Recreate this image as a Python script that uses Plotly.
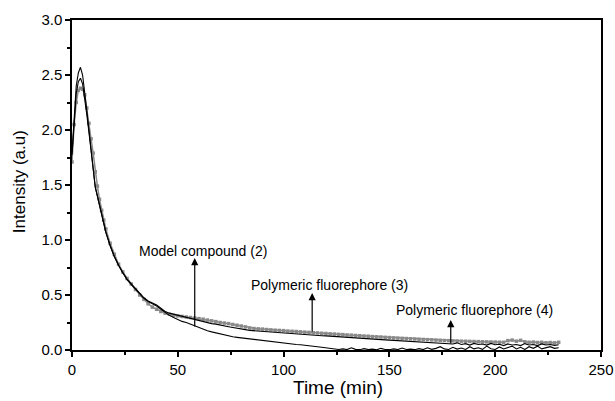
import plotly.graph_objects as go

time = list(range(0, 17)) + list(range(18, 231, 2))

model_compound = [
    1.79, 2.15, 2.40, 2.52, 2.57, 2.50, 2.36, 2.18, 2.00, 1.82, 1.64, 1.48, 1.40, 1.31, 1.22, 1.14, 1.07,
    0.95, 0.85, 0.77, 0.70, 0.64, 0.595, 0.55, 0.505, 0.47, 0.44, 0.42, 0.40, 0.37, 0.34,
    0.315, 0.295, 0.275, 0.26, 0.25, 0.235, 0.215, 0.20, 0.185, 0.175, 0.165, 0.155, 0.145, 0.135, 0.13, 0.12, 0.115, 0.11, 0.105, 0.10,
    0.095, 0.09, 0.085, 0.08, 0.075, 0.072, 0.068, 0.062, 0.058, 0.055, 0.05, 0.048, 0.045, 0.04, 0.035, 0.03, 0.025, 0.02, 0.012, 0.008,
    0.005, 0.01, 0.004, 0.02, 0.006, 0.003, 0.012, 0.004, 0.008, 0.002, 0.015, 0.005, 0.003, 0.01, 0.004, 0.018, 0.005, 0.008, 0.003, 0.012,
    0.004, 0.02, 0.006, 0.015, 0.03, 0.01, 0.005, 0.025, 0.008, 0.018, 0.005, 0.03, 0.01, 0.02, 0.006, 0.035, 0.012, 0.005, 0.028, 0.01,
    0.02, 0.035, 0.01, 0.025, 0.005, 0.03, 0.015, 0.035, 0.01, 0.02, 0.03, 0.015, 0.02,
]

polymer_3 = [
    1.77, 2.10, 2.33, 2.44, 2.47, 2.42, 2.30, 2.14, 1.98, 1.81, 1.64, 1.48, 1.40, 1.31, 1.22, 1.14, 1.07,
    0.95, 0.85, 0.77, 0.70, 0.645, 0.60, 0.555, 0.51, 0.475, 0.445, 0.425, 0.41, 0.38, 0.35,
    0.335, 0.325, 0.315, 0.305, 0.295, 0.285, 0.275, 0.27, 0.26, 0.25, 0.24, 0.235, 0.225, 0.22, 0.212, 0.205, 0.20, 0.19, 0.185, 0.178,
    0.175, 0.17, 0.168, 0.165, 0.16, 0.158, 0.155, 0.152, 0.15, 0.146, 0.142, 0.14, 0.138, 0.136, 0.135, 0.132, 0.13, 0.128, 0.125, 0.122,
    0.12, 0.118, 0.115, 0.112, 0.11, 0.106, 0.104, 0.10, 0.098, 0.096, 0.094, 0.092, 0.09, 0.088, 0.086, 0.084, 0.082, 0.08, 0.078, 0.076,
    0.074, 0.072, 0.07, 0.068, 0.066, 0.064, 0.06, 0.055, 0.065, 0.05, 0.058, 0.045, 0.06, 0.05, 0.055, 0.045, 0.06, 0.048, 0.052, 0.04,
    0.055, 0.045, 0.05, 0.04, 0.058, 0.045, 0.05, 0.04, 0.055, 0.045, 0.05, 0.042, 0.048,
]

polymer_4 = [
    1.71, 2.05, 2.25, 2.36, 2.38, 2.37, 2.32, 2.20, 2.06, 1.92, 1.79, 1.62, 1.49, 1.37, 1.27, 1.18, 1.10,
    0.97, 0.87, 0.78, 0.71, 0.65, 0.60, 0.55, 0.50, 0.46, 0.42, 0.39, 0.37, 0.35, 0.335,
    0.325, 0.315, 0.31, 0.305, 0.30, 0.295, 0.29, 0.285, 0.28, 0.272, 0.265, 0.258, 0.25, 0.245, 0.24, 0.232, 0.225, 0.218, 0.21, 0.20,
    0.195, 0.192, 0.19, 0.186, 0.183, 0.18, 0.178, 0.176, 0.172, 0.17, 0.168, 0.165, 0.162, 0.16, 0.157, 0.155, 0.152, 0.15, 0.147, 0.145,
    0.142, 0.14, 0.137, 0.135, 0.132, 0.13, 0.127, 0.125, 0.122, 0.12, 0.118, 0.115, 0.113, 0.11, 0.108, 0.106, 0.104, 0.102, 0.10, 0.098,
    0.096, 0.094, 0.092, 0.09, 0.088, 0.086, 0.085, 0.083, 0.082, 0.08, 0.079, 0.078, 0.077, 0.076, 0.075, 0.074, 0.073, 0.072, 0.071, 0.07,
    0.085, 0.09, 0.08, 0.088, 0.075, 0.07, 0.072, 0.068, 0.07, 0.066, 0.068, 0.065, 0.07,
]

labels = ["Model compound (2)", "Polymeric fluorephore (3)", "Polymeric fluorephore (4)"]
label_x = [62, 121.7, 190]
label_y = [0.90, 0.59, 0.364]
arrow_x = [58, 113.5, 179]
arrow_head_y = [0.836, 0.518, 0.273]
arrow_tail_y = [0.20, 0.155, 0.045]

x_title = "Time (min)"
y_title = "Intensity (a.u)"

FONT = "Arial, Liberation Sans, sans-serif"

fig = go.Figure()
fig.add_trace(go.Scatter(x=time, y=polymer_4, mode="lines+markers",
                         line=dict(color="#8a8a8a", width=1.5),
                         marker=dict(symbol="square", size=3.5, color="#8a8a8a"),
                         showlegend=False))
fig.add_trace(go.Scatter(x=time, y=polymer_3, mode="lines",
                         line=dict(color="black", width=1.1),
                         showlegend=False))
fig.add_trace(go.Scatter(x=time, y=model_compound, mode="lines",
                         line=dict(color="black", width=1.1),
                         showlegend=False))

for i in range(3):
    fig.add_annotation(x=arrow_x[i], y=arrow_head_y[i], ax=arrow_x[i], ay=arrow_tail_y[i],
                       xref="x", yref="y", axref="x", ayref="y", text="",
                       showarrow=True, arrowhead=2, arrowsize=1.2, arrowwidth=1.2,
                       arrowcolor="black")
    fig.add_annotation(x=label_x[i], y=label_y[i], xref="x", yref="y", text=labels[i],
                       showarrow=False, font=dict(family=FONT, size=14, color="black"))

fig.add_annotation(x=0.503, y=-0.115, xref="paper", yref="paper", text=x_title,
                   showarrow=False, xanchor="center", yanchor="middle",
                   font=dict(family=FONT, size=19, color="black"))
fig.add_annotation(x=-0.100, y=0.509, xref="paper", yref="paper", text=y_title,
                   showarrow=False, xanchor="center", yanchor="middle", textangle=-90,
                   font=dict(family=FONT, size=17, color="black"))

fig.update_layout(
    template="none",
    width=615, height=401,
    margin=dict(l=72, r=14, t=20, b=51, autoexpand=False),
    plot_bgcolor="white", paper_bgcolor="white",
    font=dict(family=FONT, color="black"),
)
fig.update_xaxes(range=[0, 250], tickvals=[0, 50, 100, 150, 200, 250],
                 showgrid=False, zeroline=False, automargin=False,
                 showline=True, linecolor="black", linewidth=1.5, mirror=True,
                 ticks="outside", ticklen=5, tickwidth=1.5, tickcolor="black",
                 minor=dict(ticks="outside", ticklen=3, tickwidth=1.5, dtick=25, tickcolor="black", showgrid=False),
                 tickfont=dict(family=FONT, size=15))
fig.update_yaxes(range=[0, 3.0], tickvals=[0, 0.5, 1.0, 1.5, 2.0, 2.5, 3.0],
                 ticktext=["0.0", "0.5", "1.0", "1.5", "2.0", "2.5", "3.0"],
                 showgrid=False, zeroline=False, automargin=False,
                 showline=True, linecolor="black", linewidth=1.5, mirror=True,
                 ticks="outside", ticklen=5, tickwidth=1.5, tickcolor="black",
                 minor=dict(ticks="outside", ticklen=3, tickwidth=1.5, dtick=0.25, tickcolor="black", showgrid=False),
                 tickfont=dict(family=FONT, size=15))

fig.write_html("out.html", config={"displayModeBar": False},
               post_script="document.body.style.margin='0';document.body.style.overflow='hidden';")
